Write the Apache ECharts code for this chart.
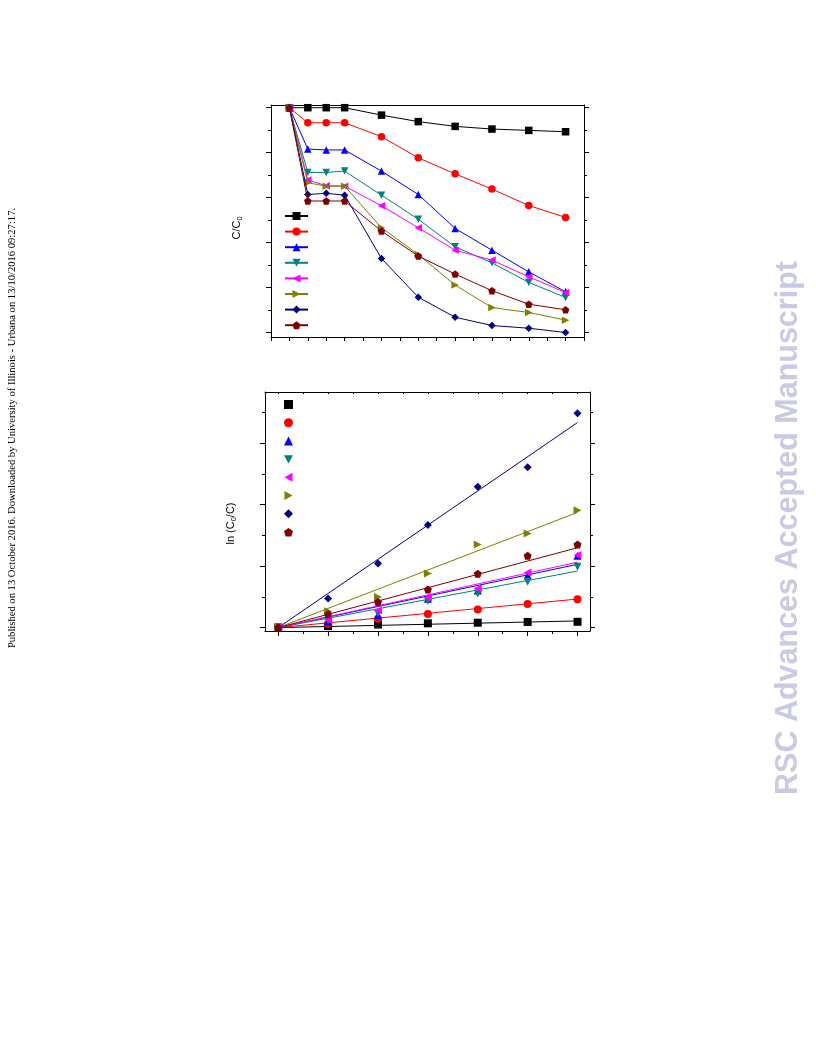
<!DOCTYPE html>
<html>
<head>
<meta charset="utf-8">
<script src="https://cdn.jsdelivr.net/npm/echarts@6/dist/echarts.min.js"></script>
<style>
html,body{margin:0;padding:0;background:#fff;}
#c{width:816px;height:1056px;}
</style>
</head>
<body>
<div id="c"></div>
<script>
// ---- Top plot: C/C0 vs time ----
const tTop = [-30, -20, -10, 0, 20, 40, 60, 80, 100, 120];
const topBlack   = [1.0, 1.0, 1.0, 1.0, 0.967, 0.938, 0.917, 0.905, 0.899, 0.893];
const topRed     = [1.0, 0.933, 0.933, 0.933, 0.871, 0.777, 0.706, 0.638, 0.565, 0.512];
const topBlue    = [1.0, 0.816, 0.812, 0.812, 0.718, 0.614, 0.463, 0.366, 0.270, 0.181];
const topTeal    = [1.0, 0.712, 0.712, 0.718, 0.611, 0.504, 0.381, 0.310, 0.223, 0.156];
const topMagenta = [1.0, 0.678, 0.653, 0.651, 0.564, 0.466, 0.366, 0.322, 0.248, 0.178];
const topOlive   = [1.0, 0.666, 0.651, 0.651, 0.466, 0.347, 0.211, 0.111, 0.089, 0.055];
const topNavy    = [1.0, 0.614, 0.619, 0.611, 0.329, 0.157, 0.068, 0.031, 0.019, 0.0];
const topDarkred = [1.0, 0.585, 0.585, 0.585, 0.451, 0.340, 0.260, 0.186, 0.126, 0.101];

// ---- Bottom plot: ln(C0/C) vs time ----
const tBot = [0, 20, 40, 60, 80, 100, 120];
const botBlack   = [0, 0.025, 0.050, 0.070, 0.080, 0.092, 0.095];
const botRed     = [0, 0.065, 0.145, 0.220, 0.296, 0.385, 0.462];
const botBlue    = [0, 0.100, 0.200, 0.470, 0.605, 0.853, 1.170];
const botTeal    = [0, 0.110, 0.230, 0.435, 0.554, 0.745, 0.990];
const botMagenta = [0, 0.130, 0.280, 0.490, 0.636, 0.897, 1.180];
const botOlive   = [0, 0.266, 0.500, 0.880, 1.353, 1.533, 1.908];
const botNavy    = [0, 0.473, 1.043, 1.668, 2.293, 2.609, 3.489];
const botDarkred = [0, 0.217, 0.418, 0.620, 0.878, 1.168, 1.353];
// fitted lines: value at t = 0 and t = 120
const fitT = [0, 120];
const fitBlack   = [0, 0.109];
const fitRed     = [0, 0.465];
const fitBlue    = [0, 1.030];
const fitTeal    = [0, 0.920];
const fitMagenta = [0, 1.065];
const fitOlive   = [0, 1.875];
const fitNavy    = [0, 3.337];
const fitDarkred = [0, 1.300];

// ticks
const topXTicks = [-40,-30,-20,-10,0,10,20,30,40,50,60,70,80,90,100,110,120,130];
const topYMajor = [0, 0.2, 0.4, 0.6, 0.8, 1.0];
const topYMinor = [0.1, 0.3, 0.5, 0.7, 0.9];
const botXMajor = [0, 20, 40, 60, 80, 100, 120];
const botXMinor = [10, 30, 50, 70, 90, 110];
const botXTop   = [0,10,20,30,40,50,60,70,80,90,100,110,120];
const botYMajor = [0, 1, 2, 3];
const botYMinor = [0.5, 1.5, 2.5, 3.5];

const names = ['S1','S2','S3','S4','S5','S6','S7','S8'];
const colors = ['#000000','#ff0000','#0000ff','#008080','#ff00ff','#808000','#000080','#800000'];
const symbols = [
  'rect', 'circle', 'triangle',
  'path://M0,0 L10,0 L5,9 Z',
  'path://M9,0 L0,5 L9,10 Z',
  'path://M0,0 L9,5 L0,10 Z',
  'diamond',
  'path://M5,0 L10,3.6 L8.1,9.5 L1.9,9.5 L0,3.6 Z'
];
const topData = [topBlack, topRed, topBlue, topTeal, topMagenta, topOlive, topNavy, topDarkred];
const botData = [botBlack, botRed, botBlue, botTeal, botMagenta, botOlive, botNavy, botDarkred];
const fitData = [fitBlack, fitRed, fitBlue, fitTeal, fitMagenta, fitOlive, fitNavy, fitDarkred];

function ax(gi, pos, min, max, ticks, len, inside, showLine, extra) {
  const o = {
    type: 'value', gridIndex: gi, position: pos, min: min, max: max,
    axisLine: {show: showLine, onZero: false, lineStyle: {color: '#000', width: 1}},
    axisTick: {show: ticks.length > 0, inside: inside, length: len, customValues: ticks.length ? ticks : undefined,
               lineStyle: {color: '#000', width: 1}},
    axisLabel: {show: false},
    splitLine: {show: false}
  };
  return Object.assign(o, extra || {});
}

function nameStyle(padRight) {
  return {
    fontFamily: 'Liberation Sans, Arial, sans-serif', color: '#000',
    padding: [0, padRight, 0, 0],
    rich: {
      n: {fontSize: 11, fontFamily: 'Liberation Sans, Arial, sans-serif', color: '#000'},
      s: {fontSize: 7.5, fontFamily: 'Liberation Sans, Arial, sans-serif', color: '#000', padding: [7, 0, 0, 0]}
    }
  };
}

const TXmin = -40, TXmax = 130, TYmin = -0.02, TYmax = 1.012;
const BXmin = -5.3, BXmax = 125, BYmin = -0.055, BYmax = 3.834;

const xAxes = [
  ax(0, 'bottom', TXmin, TXmax, topXTicks, 4, false, true),   // 0
  ax(0, 'top', TXmin, TXmax, [], 0, true, true),              // 1
  ax(1, 'bottom', BXmin, BXmax, botXMajor, 5, false, true),   // 2
  ax(1, 'bottom', BXmin, BXmax, botXMinor, 3, false, false),  // 3
  ax(1, 'top', BXmin, BXmax, botXTop, 2, true, true)          // 4
];
const yAxes = [
  ax(0, 'left', TYmin, TYmax, topYMajor, 5, false, true, {
    name: '{n|C/C}{s|0}', nameLocation: 'middle', nameGap: 27, nameTextStyle: nameStyle(14)}), // 0
  ax(0, 'left', TYmin, TYmax, topYMinor, 3, false, false),   // 1
  ax(0, 'right', TYmin, TYmax, topYMajor, 5, false, true),   // 2
  ax(0, 'right', TYmin, TYmax, topYMinor, 3, false, false),  // 3
  ax(1, 'left', BYmin, BYmax, botYMajor, 5, false, true, {
    name: '{n|ln (C}{s|0}{n|/C)}', nameLocation: 'middle', nameGap: 27, nameTextStyle: nameStyle(24)}), // 4
  ax(1, 'left', BYmin, BYmax, botYMinor, 3, false, false),   // 5
  ax(1, 'right', BYmin, BYmax, botYMajor, 5, false, true),   // 6
  ax(1, 'right', BYmin, BYmax, botYMinor, 3, false, false)   // 7
];

const series = [];
names.forEach((nm, i) => {
  series.push({
    name: 'a' + nm, type: 'line', xAxisIndex: 0, yAxisIndex: 0,
    data: tTop.map((t, k) => [t, topData[i][k]]),
    symbol: symbols[i], symbolSize: 7.5, color: colors[i],
    lineStyle: {width: 1, color: colors[i]}, itemStyle: {color: colors[i], opacity: 1},
    animation: false, z: 2 + i
  });
});
names.forEach((nm, i) => {
  series.push({
    name: 'b' + nm, type: 'scatter', xAxisIndex: 2, yAxisIndex: 4,
    data: tBot.map((t, k) => [t, botData[i][k]]),
    symbol: symbols[i], symbolSize: 8, color: colors[i],
    itemStyle: {color: colors[i], opacity: 1}, animation: false, z: 10
  });
  series.push({
    name: 'fit' + nm, type: 'line', xAxisIndex: 2, yAxisIndex: 4,
    data: fitT.map((t, k) => [t, fitData[i][k]]),
    symbol: 'none', lineStyle: {width: 1, color: colors[i]}, color: colors[i],
    animation: false, z: 5
  });
});

const option = {
  backgroundColor: '#fff',
  animation: false,
  grid: [
    {left: 271, top: 105, width: 313, height: 232, containLabel: false},
    {left: 265, top: 392, width: 325, height: 239, containLabel: false}
  ],
  xAxis: xAxes,
  yAxis: yAxes,
  legend: [
    {
      data: names.map(n => 'a' + n), orient: 'vertical', left: 284, top: 211,
      itemWidth: 23, itemHeight: 10, itemGap: 6.6, formatter: () => '',
      selectedMode: false, padding: 0
    },
    {
      data: names.map(n => 'b' + n), orient: 'vertical', left: 284, top: 400,
      itemWidth: 9, itemHeight: 9, itemGap: 9.3, formatter: () => '',
      selectedMode: false, padding: 0
    }
  ],
  graphic: [
    {
      type: 'text', x: 12, y: 428, rotation: Math.PI / 2,
      style: {
        text: 'Published on 13 October 2016. Downloaded by University of Illinois - Urbana on 13/10/2016 09:27:17.',
        fontFamily: 'Liberation Serif, Times New Roman, serif', fontSize: 10.6, fill: '#000',
        align: 'center', verticalAlign: 'middle'
      }
    },
    {
      type: 'text', x: 789, y: 528, rotation: Math.PI / 2,
      style: {
        text: 'RSC Advances Accepted Manuscript',
        fontFamily: 'Liberation Sans, Arial, sans-serif', fontWeight: 'bold', fontSize: 30.5,
        fill: 'rgb(202,202,228)', align: 'center', verticalAlign: 'middle'
      }
    }
  ],
  series: series
};

const chart = echarts.init(document.getElementById('c'), null, {renderer: 'canvas'});
chart.setOption(option);
</script>
</body>
</html>
